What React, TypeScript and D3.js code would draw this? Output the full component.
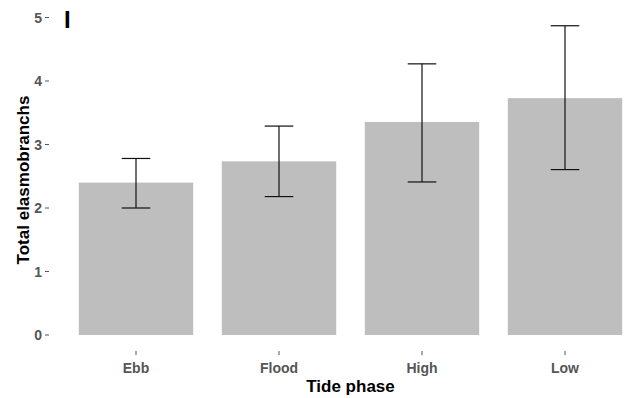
import React from "react";
import * as d3 from "d3";

const categories = ["Ebb", "Flood", "High", "Low"];
const means = [2.4, 2.735, 3.355, 3.73];
const upper = [2.78, 3.29, 4.27, 4.87];
const lower = [2.0, 2.18, 2.41, 2.605];
const yTicks = [0, 1, 2, 3, 4, 5];

const W = 634;
const H = 398;

export default function App() {
  const x = d3
    .scalePoint<string>()
    .domain(categories)
    .range([50.2, 650.8])
    .padding(0.6);
  const step = x.step();
  const y = d3.scaleLinear().domain([0, 5]).range([335, 17.5]);
  const barW = step * 0.8;
  const capW = step * 0.2;
  const tickFont = "'Liberation Sans', Arial, sans-serif";

  return (
    <svg
      width={W}
      height={H}
      style={{ position: "absolute", left: 0, top: 0, background: "#fff" }}
    >
      <defs>
        <clipPath id="clip">
          <rect x={0} y={0} width={W} height={H} />
        </clipPath>
      </defs>
      <g clipPath="url(#clip)">
        {categories.map((c, i) => (
          <rect
            key={c}
            x={(x(c) as number) - barW / 2}
            y={y(means[i])}
            width={barW}
            height={y(0) - y(means[i])}
            fill="#bebebe"
          />
        ))}
        {categories.map((c, i) => {
          const cx = x(c) as number;
          return (
            <g key={c} stroke="#111" strokeWidth={1.2} fill="none">
              <line x1={cx} x2={cx} y1={y(upper[i])} y2={y(lower[i])} />
              <line
                x1={cx - capW / 2}
                x2={cx + capW / 2}
                y1={y(upper[i])}
                y2={y(upper[i])}
              />
              <line
                x1={cx - capW / 2}
                x2={cx + capW / 2}
                y1={y(lower[i])}
                y2={y(lower[i])}
              />
            </g>
          );
        })}
      </g>
      {yTicks.map((t) => (
        <g key={t}>
          <line x1={45} x2={49} y1={y(t)} y2={y(t)} stroke="#555" strokeWidth={1} />
          <text
            x={42}
            y={y(t)}
            dy="0.36em"
            textAnchor="end"
            fontFamily={tickFont}
            fontWeight="bold"
            fontSize={14}
            fill="#555"
          >
            {t}
          </text>
        </g>
      ))}
      {categories.map((c) => (
        <g key={c}>
          <line
            x1={x(c) as number}
            x2={x(c) as number}
            y1={351}
            y2={355}
            stroke="#555"
            strokeWidth={1}
          />
          <text
            x={x(c) as number}
            y={373}
            textAnchor="middle"
            fontFamily={tickFont}
            fontWeight="bold"
            fontSize={14}
            fill="#555"
          >
            {c}
          </text>
        </g>
      ))}
      <text
        x={350.5}
        y={392}
        textAnchor="middle"
        fontFamily={tickFont}
        fontWeight="bold"
        fontSize={17}
        fill="#000"
      >
        Tide phase
      </text>
      <text
        transform={`translate(29, 180) rotate(-90)`}
        textAnchor="middle"
        fontFamily={tickFont}
        fontWeight="bold"
        fontSize={17}
        fill="#000"
      >
        Total elasmobranchs
      </text>
      <text
        x={64}
        y={28}
        fontFamily={tickFont}
        fontWeight="bold"
        fontSize={24}
        fill="#000"
      >
        I
      </text>
    </svg>
  );
}
